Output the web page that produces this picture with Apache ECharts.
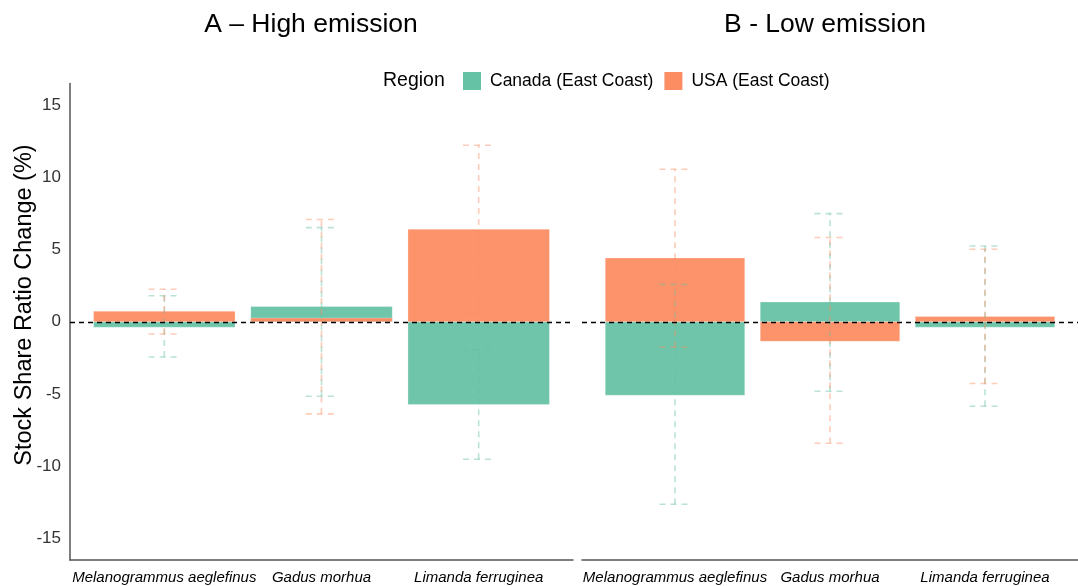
<!DOCTYPE html>
<html>
<head>
<meta charset="utf-8">
<script src="https://cdn.jsdelivr.net/npm/echarts@6/dist/echarts.min.js"></script>
<style>html,body{margin:0;padding:0;background:#fff}#c{width:1078px;height:586px}</style>
</head>
<body>
<div id="c"></div>
<script>
// ---- data ----
const categories = ['Melanogrammus aeglefinus', 'Gadus morhua', 'Limanda ferruginea'];
const regions = ['Canada (East Coast)', 'USA (East Coast)'];
const yTicks = [-15, -10, -5, 0, 5, 10, 15];

// Panel A – High emission
const highCanadaMean = [-0.38, 1.05, -5.73];
const highCanadaLow  = [-2.44, -5.16, -9.52];
const highCanadaHigh = [1.80, 6.52, -1.95];
const highUsaMean    = [0.73, 0.26, 6.41];
const highUsaLow     = [-0.85, -6.38, 0.60];
const highUsaHigh    = [2.25, 7.08, 12.22];

// Panel B – Low emission
const lowCanadaMean = [-5.09, 1.37, -0.38];
const lowCanadaLow  = [-12.64, -4.81, -5.85];
const lowCanadaHigh = [2.58, 7.49, 5.25];
const lowUsaMean    = [4.42, -1.35, 0.36];
const lowUsaLow     = [-1.77, -8.41, -4.28];
const lowUsaHigh    = [10.56, 5.83, 5.02];

// ---- styling ----
const FONT = "'Liberation Sans', Arial, Helvetica, sans-serif";
const GREEN = '#66C2A5';
const ORANGE = '#FC8D62';
const AXIS = '#555555';

const chart = echarts.init(document.getElementById('c'), null, {renderer: 'canvas'});

function barData(mean) { return mean.map((v, i) => [i + 1, v]); }
function errData(lo, hi) { return lo.map((v, i) => [i + 1, v, hi[i]]); }

function barSeries(name, mean, color, idx) {
  return {
    type: 'custom', name: name, xAxisIndex: idx, yAxisIndex: idx,
    data: barData(mean),
    encode: {x: 0, y: 1},
    itemStyle: {color: color},
    z: 2,
    renderItem: function (params, api) {
      const x = api.value(0), v = api.value(1);
      const p0 = api.coord([x - 0.45, 0]);
      const p1 = api.coord([x + 0.45, v]);
      return {
        type: 'rect',
        shape: {x: p0[0], y: Math.min(p0[1], p1[1]), width: p1[0] - p0[0], height: Math.abs(p1[1] - p0[1])},
        style: {fill: color, opacity: 0.95, stroke: 'rgba(255,255,255,0.35)', lineWidth: 0.8}
      };
    }
  };
}

function errSeries(name, lo, hi, color, idx) {
  return {
    type: 'custom', name: name, xAxisIndex: idx, yAxisIndex: idx,
    data: errData(lo, hi),
    encode: {x: 0, y: [1, 2]},
    z: 3,
    silent: true,
    renderItem: function (params, api) {
      const x = api.value(0), l = api.value(1), h = api.value(2);
      const pl = api.coord([x, l]), ph = api.coord([x, h]);
      const cl = api.coord([x - 0.1, l]), cr = api.coord([x + 0.1, l]);
      const tl = api.coord([x - 0.1, h]), tr = api.coord([x + 0.1, h]);
      const st = {stroke: color, opacity: 0.45, lineWidth: 1.6, lineDash: [6, 5], fill: null};
      return {
        type: 'group',
        children: [
          {type: 'line', shape: {x1: pl[0], y1: pl[1], x2: ph[0], y2: ph[1]}, style: st},
          {type: 'line', shape: {x1: cl[0], y1: cl[1], x2: cr[0], y2: cr[1]}, style: st},
          {type: 'line', shape: {x1: tl[0], y1: tl[1], x2: tr[0], y2: tr[1]}, style: st}
        ]
      };
    }
  };
}

function zeroLine(idx) {
  return {
    type: 'line', xAxisIndex: idx, yAxisIndex: idx, data: [], silent: true, z: 4,
    markLine: {
      silent: true, symbol: ['none', 'none'], label: {show: false},
      lineStyle: {color: '#000', type: [5, 4], width: 1.3},
      data: [{yAxis: 0}],
      animation: false
    }
  };
}

function xAxis(idx) {
  return {
    type: 'value', gridIndex: idx, min: 0.4, max: 3.6,
    splitLine: {show: false},
    axisTick: {show: false},
    axisLine: {show: true, onZero: false, lineStyle: {color: AXIS, width: 1.5}},
    axisLabel: {
      customValues: [1, 2, 3],
      formatter: v => categories[Math.round(v) - 1],
      fontFamily: FONT, fontSize: 15, fontStyle: 'italic', color: '#000', margin: 10
    }
  };
}

const option = {
  animation: false,
  backgroundColor: '#fff',
  title: [
    {text: 'A \u2013 High emission', left: 306, top: 6, textAlign: 'center',
     textStyle: {fontFamily: FONT, fontSize: 26.5, fontWeight: 'normal', color: '#000'}},
    {text: 'B - Low emission', left: 820, top: 6, textAlign: 'center',
     textStyle: {fontFamily: FONT, fontSize: 26.5, fontWeight: 'normal', color: '#000'}}
  ],
  legend: {
    left: 458, top: 67,
    icon: 'rect', itemWidth: 18, itemHeight: 18, itemGap: 11,
    selectedMode: false,
    data: [
      {name: regions[0], itemStyle: {color: GREEN}},
      {name: regions[1], itemStyle: {color: ORANGE}}
    ],
    textStyle: {fontFamily: FONT, fontSize: 17.5, color: '#000', padding: [0, 0, 0, 4]}
  },
  graphic: [
    {type: 'text', x: 383, y: 81,
     style: {text: 'Region', font: '19.5px ' + FONT, fill: '#000', textVerticalAlign: 'middle'}},
    {type: 'text', x: 25, y: 305, rotation: Math.PI / 2,
     style: {text: 'Stock Share Ratio Change (%)', font: '23.5px ' + FONT, fill: '#000',
             textAlign: 'center', textVerticalAlign: 'middle'}}
  ],
  grid: [
    {left: 70, top: 83.5, width: 503, height: 476.5},
    {left: 582, top: 83.5, width: 502, height: 476.5}
  ],
  xAxis: [xAxis(0), xAxis(1)],
  yAxis: [
    {type: 'value', gridIndex: 0, min: -16.5, max: 16.5,
     splitLine: {show: false}, axisTick: {show: false},
     axisLine: {show: true, lineStyle: {color: AXIS, width: 1.5}},
     axisLabel: {customValues: yTicks, fontFamily: FONT, fontSize: 17, color: '#333', margin: 9}},
    {type: 'value', gridIndex: 1, min: -16.5, max: 16.5,
     splitLine: {show: false}, axisTick: {show: false},
     axisLine: {show: false}, axisLabel: {show: false}}
  ],
  series: [
    barSeries(regions[0], highCanadaMean, GREEN, 0),
    barSeries(regions[1], highUsaMean, ORANGE, 0),
    errSeries('Canada err A', highCanadaLow, highCanadaHigh, GREEN, 0),
    errSeries('USA err A', highUsaLow, highUsaHigh, ORANGE, 0),
    zeroLine(0),
    barSeries(regions[0], lowCanadaMean, GREEN, 1),
    barSeries(regions[1], lowUsaMean, ORANGE, 1),
    errSeries('Canada err B', lowCanadaLow, lowCanadaHigh, GREEN, 1),
    errSeries('USA err B', lowUsaLow, lowUsaHigh, ORANGE, 1),
    zeroLine(1)
  ]
};
chart.setOption(option);
</script>
</body>
</html>
